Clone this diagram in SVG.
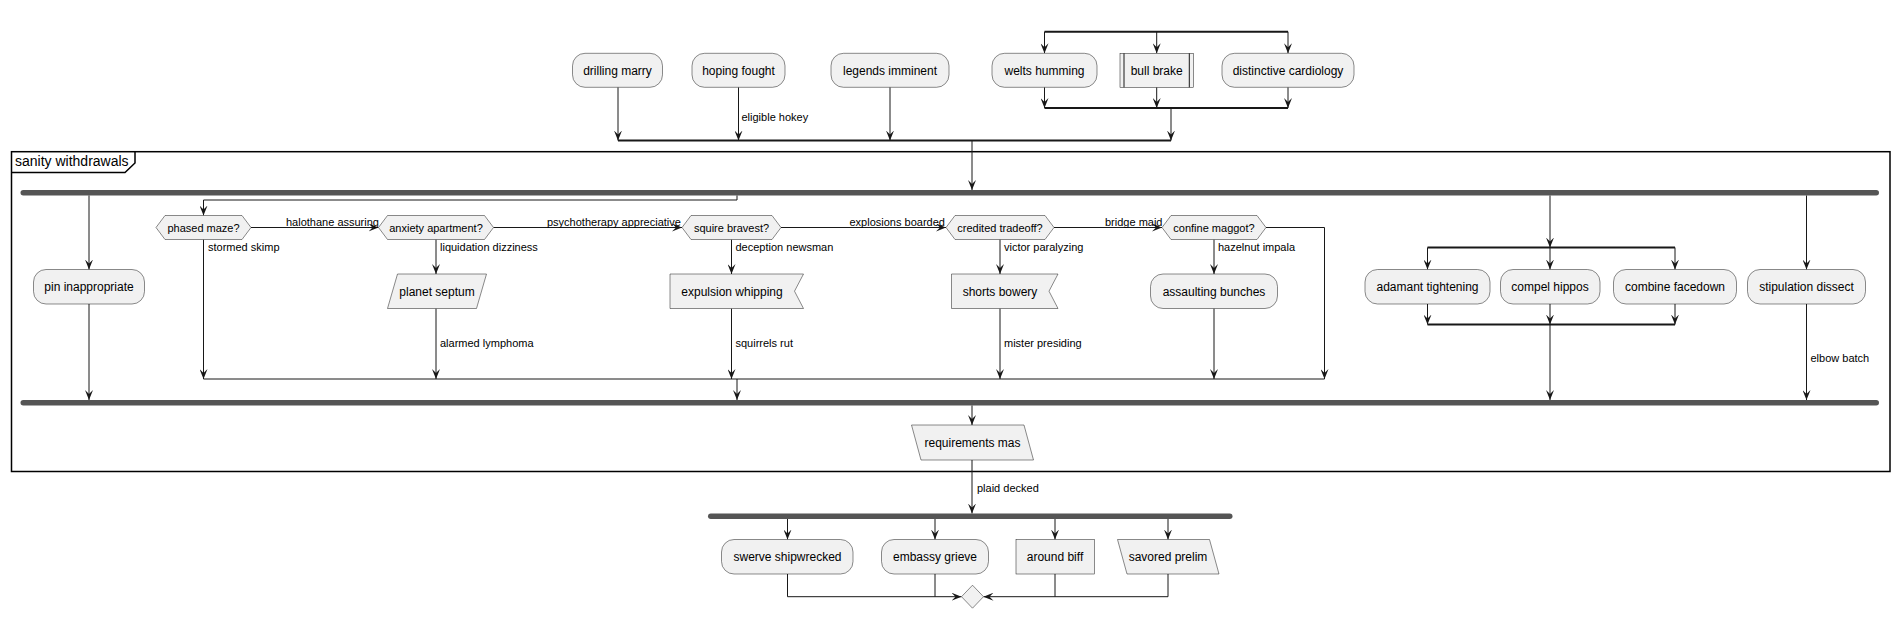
<svg xmlns="http://www.w3.org/2000/svg" width="1900" height="619" viewBox="0 0 1900 619">
<defs>
<marker id="ah" markerUnits="userSpaceOnUse" markerWidth="10" markerHeight="8" refX="10" refY="4" orient="auto">
<path d="M0,0 L10,4 L0,8 L4,4 Z" fill="#181818"/>
</marker>
<style>
.box{fill:#F1F1F1;stroke:#181818;stroke-width:0.5}
.t{font-family:"Liberation Sans",Arial,sans-serif;font-size:12px;fill:#000;text-anchor:middle}
.th{font-family:"Liberation Sans",Arial,sans-serif;font-size:11px;fill:#000;text-anchor:middle}
.lb{font-family:"Liberation Sans",Arial,sans-serif;font-size:11px;fill:#000}
.ln{fill:none;stroke:#181818;stroke-width:1}
.ar{fill:none;stroke:#181818;stroke-width:1;marker-end:url(#ah)}
.sp{fill:none;stroke:#181818;stroke-width:2}
.bar{fill:#555555;stroke:none}
.frame{fill:none;stroke:#000;stroke-width:1.5}
</style>
</defs>
<rect width="1900" height="619" fill="#FFFFFF"/>

<g id="frame-sanity-withdrawals">
<rect class="frame" x="11.5" y="151.7" width="1878.5" height="319.8"/>
<path class="frame" d="M11.5,172.5 L125,172.5 L135,163 L135,151.7"/>
<text x="15" y="165.5" font-family="Liberation Sans, Arial, sans-serif" font-size="14">sanity withdrawals</text>
</g>

<g id="connectors">
<line class="sp" x1="1044.5" y1="31.7" x2="1288" y2="31.7"/>
<line class="ar" x1="1044.5" y1="31.7" x2="1044.5" y2="53.3"/>
<line class="ar" x1="1156.7" y1="31.7" x2="1156.7" y2="53.3"/>
<line class="ar" x1="1288" y1="31.7" x2="1288" y2="53.3"/>
<line class="ar" x1="1044.5" y1="87.3" x2="1044.5" y2="108"/>
<line class="ar" x1="1156.7" y1="87.3" x2="1156.7" y2="108"/>
<line class="ar" x1="1288" y1="87.3" x2="1288" y2="108"/>
<line class="sp" x1="1044.5" y1="108" x2="1288" y2="108"/>
<line class="ar" x1="1171" y1="108" x2="1171" y2="140.5"/>
<line class="ar" x1="618" y1="87.3" x2="618" y2="140.5"/>
<line class="ar" x1="738.5" y1="87.3" x2="738.5" y2="140.5"/>
<line class="ar" x1="890" y1="87.3" x2="890" y2="140.5"/>
<line class="sp" x1="618" y1="140.5" x2="1171" y2="140.5"/>
<text class="lb" x="741.5" y="120.5">eligible hokey</text>
<line class="ar" x1="972" y1="140.5" x2="972" y2="190"/>

<rect class="bar" x="20.5" y="190" width="1858.5" height="5.5" rx="2.75"/>
<line class="ar" x1="89" y1="195.5" x2="89" y2="269.5"/>
<line class="ar" x1="89" y1="304" x2="89" y2="400"/>

<path class="ar" d="M737,195.5 V200 H203.5 V215.5"/>
<line class="ar" x1="251" y1="227.5" x2="378.5" y2="227.5"/>
<text class="lb" x="286" y="225.5">halothane assuring</text>
<line class="ar" x1="493.5" y1="227.5" x2="682" y2="227.5"/>
<text class="lb" x="547" y="225.5">psychotherapy appreciative</text>
<line class="ar" x1="781" y1="227.5" x2="946" y2="227.5"/>
<text class="lb" x="849.5" y="225.5">explosions boarded</text>
<line class="ar" x1="1054" y1="227.5" x2="1162" y2="227.5"/>
<text class="lb" x="1105" y="225.5">bridge maid</text>
<path class="ar" d="M1266,227.5 H1324.5 V379"/>

<line class="ar" x1="203.5" y1="239.5" x2="203.5" y2="379"/>
<text class="lb" x="208" y="251">stormed skimp</text>
<line class="ar" x1="436" y1="239.5" x2="436" y2="274"/>
<text class="lb" x="440" y="251">liquidation dizziness</text>
<line class="ar" x1="436" y1="308.5" x2="436" y2="379"/>
<text class="lb" x="440" y="347">alarmed lymphoma</text>
<line class="ar" x1="731.5" y1="239.5" x2="731.5" y2="274"/>
<text class="lb" x="735.5" y="251">deception newsman</text>
<line class="ar" x1="731.5" y1="308.5" x2="731.5" y2="379"/>
<text class="lb" x="735.5" y="347">squirrels rut</text>
<line class="ar" x1="1000" y1="239.5" x2="1000" y2="274"/>
<text class="lb" x="1004" y="251">victor paralyzing</text>
<line class="ar" x1="1000" y1="308.5" x2="1000" y2="379"/>
<text class="lb" x="1004" y="347">mister presiding</text>
<line class="ar" x1="1214" y1="239.5" x2="1214" y2="274"/>
<text class="lb" x="1218" y="251">hazelnut impala</text>
<line class="ar" x1="1214" y1="308.5" x2="1214" y2="379"/>
<line class="ln" x1="203.5" y1="379" x2="1324.5" y2="379"/>
<line class="ar" x1="737" y1="379" x2="737" y2="400"/>

<line class="ar" x1="1550" y1="195.5" x2="1550" y2="247.5"/>
<line class="sp" x1="1427.5" y1="247.5" x2="1675" y2="247.5"/>
<line class="ar" x1="1427.5" y1="247.5" x2="1427.5" y2="269.5"/>
<line class="ar" x1="1550" y1="247.5" x2="1550" y2="269.5"/>
<line class="ar" x1="1675" y1="247.5" x2="1675" y2="269.5"/>
<line class="ar" x1="1427.5" y1="304" x2="1427.5" y2="324.5"/>
<line class="ar" x1="1550" y1="304" x2="1550" y2="324.5"/>
<line class="ar" x1="1675" y1="304" x2="1675" y2="324.5"/>
<line class="sp" x1="1427.5" y1="324.5" x2="1675" y2="324.5"/>
<line class="ar" x1="1550" y1="324.5" x2="1550" y2="400"/>

<line class="ar" x1="1806.5" y1="195.5" x2="1806.5" y2="269.5"/>
<line class="ar" x1="1806.5" y1="304" x2="1806.5" y2="400"/>
<text class="lb" x="1810.5" y="362">elbow batch</text>

<rect class="bar" x="20.5" y="400" width="1858.5" height="5.5" rx="2.75"/>
<line class="ar" x1="972" y1="405.5" x2="972" y2="425"/>
<line class="ar" x1="972" y1="460" x2="972" y2="513.5"/>
<text class="lb" x="977" y="492">plaid decked</text>

<rect class="bar" x="708" y="513.5" width="524.5" height="5.5" rx="2.75"/>
<line class="ar" x1="787.5" y1="519" x2="787.5" y2="539.5"/>
<line class="ar" x1="935" y1="519" x2="935" y2="539.5"/>
<line class="ar" x1="1055" y1="519" x2="1055" y2="539.5"/>
<line class="ar" x1="1168" y1="519" x2="1168" y2="539.5"/>
<path class="ar" d="M787.5,574 V596.7 H961.5"/>
<line class="ln" x1="935" y1="574" x2="935" y2="596.7"/>
<path class="ar" d="M1168,574 V596.7 H983.5"/>
<line class="ln" x1="1055" y1="574" x2="1055" y2="596.7"/>
</g>

<g id="drilling-marry"><rect class="box" x="572.5" y="53.3" width="90" height="34" rx="12.5"/><text class="t" x="617.5" y="74.5">drilling marry</text></g>
<g id="hoping-fought"><rect class="box" x="692" y="53.3" width="93" height="34" rx="12.5"/><text class="t" x="738.5" y="74.5">hoping fought</text></g>
<g id="legends-imminent"><rect class="box" x="831" y="53.3" width="118" height="34" rx="12.5"/><text class="t" x="890" y="74.5">legends imminent</text></g>
<g id="welts-humming"><rect class="box" x="992" y="53.3" width="105" height="34" rx="12.5"/><text class="t" x="1044.5" y="74.5">welts humming</text></g>
<g id="bull-brake"><rect class="box" x="1120" y="53.3" width="73.3" height="34"/><line class="ln" x1="1124" y1="53.3" x2="1124" y2="87.3" stroke-width="0.5"/><line class="ln" x1="1189.3" y1="53.3" x2="1189.3" y2="87.3" stroke-width="0.5"/><text class="t" x="1156.7" y="74.5">bull brake</text></g>
<g id="distinctive-cardiology"><rect class="box" x="1222" y="53.3" width="132" height="34" rx="12.5"/><text class="t" x="1288" y="74.5">distinctive cardiology</text></g>

<g id="pin-inappropriate"><rect class="box" x="33.5" y="269.5" width="111" height="34.5" rx="12.5"/><text class="t" x="89" y="291">pin inappropriate</text></g>

<g id="phased-maze"><polygon class="box" points="156,227.5 165,215.5 242,215.5 251,227.5 242,239.5 165,239.5"/><text class="th" x="203.5" y="231.5">phased maze?</text></g>
<g id="anxiety-apartment"><polygon class="box" points="378.5,227.5 387.5,215.5 484.5,215.5 493.5,227.5 484.5,239.5 387.5,239.5"/><text class="th" x="436" y="231.5">anxiety apartment?</text></g>
<g id="squire-bravest"><polygon class="box" points="682,227.5 691,215.5 772,215.5 781,227.5 772,239.5 691,239.5"/><text class="th" x="731.5" y="231.5">squire bravest?</text></g>
<g id="credited-tradeoff"><polygon class="box" points="946,227.5 955,215.5 1045,215.5 1054,227.5 1045,239.5 955,239.5"/><text class="th" x="1000" y="231.5">credited tradeoff?</text></g>
<g id="confine-maggot"><polygon class="box" points="1162,227.5 1171,215.5 1257,215.5 1266,227.5 1257,239.5 1171,239.5"/><text class="th" x="1214" y="231.5">confine maggot?</text></g>

<g id="planet-septum"><polygon class="box" points="397.5,274 486.5,274 476.5,308.5 387.5,308.5"/><text class="t" x="437" y="295.5">planet septum</text></g>
<g id="expulsion-whipping"><polygon class="box" points="670,274 803.5,274 794.5,291.2 803.5,308.5 670,308.5"/><text class="t" x="732" y="295.5">expulsion whipping</text></g>
<g id="shorts-bowery"><polygon class="box" points="951.5,274 1058,274 1049,291.2 1058,308.5 951.5,308.5"/><text class="t" x="1000" y="295.5">shorts bowery</text></g>
<g id="assaulting-bunches"><rect class="box" x="1150.5" y="274" width="127" height="34.5" rx="12.5"/><text class="t" x="1214" y="295.5">assaulting bunches</text></g>

<g id="adamant-tightening"><rect class="box" x="1365" y="269.5" width="125" height="34.5" rx="12.5"/><text class="t" x="1427.5" y="291">adamant tightening</text></g>
<g id="compel-hippos"><rect class="box" x="1500.5" y="269.5" width="99.5" height="34.5" rx="12.5"/><text class="t" x="1550" y="291">compel hippos</text></g>
<g id="combine-facedown"><rect class="box" x="1613.5" y="269.5" width="123" height="34.5" rx="12.5"/><text class="t" x="1675" y="291">combine facedown</text></g>
<g id="stipulation-dissect"><rect class="box" x="1747.5" y="269.5" width="118" height="34.5" rx="12.5"/><text class="t" x="1806.5" y="291">stipulation dissect</text></g>

<g id="requirements-mas"><polygon class="box" points="911.5,425 1024,425 1033.5,460 921,460"/><text class="t" x="972.5" y="446.5">requirements mas</text></g>

<g id="swerve-shipwrecked"><rect class="box" x="721.5" y="539.5" width="131.5" height="34.5" rx="12.5"/><text class="t" x="787.5" y="561">swerve shipwrecked</text></g>
<g id="embassy-grieve"><rect class="box" x="881.5" y="539.5" width="107" height="34.5" rx="12.5"/><text class="t" x="935" y="561">embassy grieve</text></g>
<g id="around-biff"><rect class="box" x="1016" y="539.5" width="78.3" height="34.5"/><text class="t" x="1055" y="561">around biff</text></g>
<g id="savored-prelim"><polygon class="box" points="1117.5,539.5 1209.5,539.5 1219,574 1127,574"/><text class="t" x="1168" y="561">savored prelim</text></g>

<g id="merge-diamond"><polygon class="box" points="961.5,596.7 972.5,585.2 983.5,596.7 972.5,608.2"/></g>
</svg>
